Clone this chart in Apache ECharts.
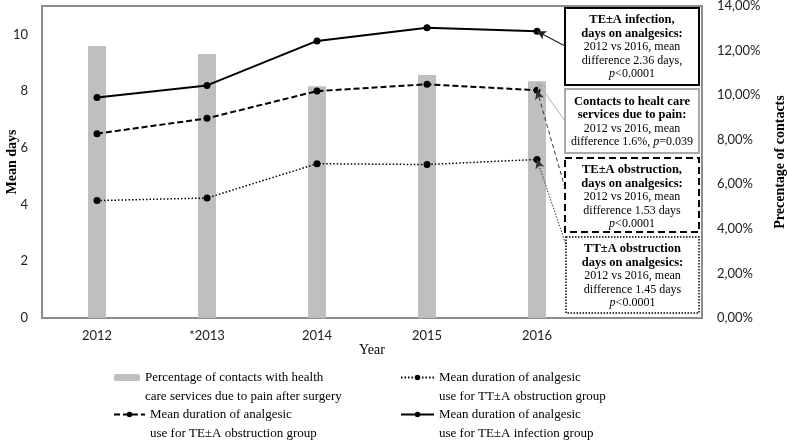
<!DOCTYPE html>
<html>
<head>
<meta charset="utf-8">
<script src="https://cdn.jsdelivr.net/npm/echarts@6/dist/echarts.min.js"></script>
<style>
  html, body { margin: 0; padding: 0; background: #fff; }
  #chart { width: 787px; height: 440px; }
</style>
</head>
<body>
<div id="chart"></div>
<script>
var years = ['2012', '*2013', '2014', '2015', '2016', ''];
var contactsPct = [12.2, 11.85, 10.4, 10.9, 10.62];
var ttObstruction = [4.14, 4.23, 5.44, 5.41, 5.59];
var teObstruction = [6.5, 7.04, 8.0, 8.24, 8.03];
var teInfection = [7.77, 8.2, 9.77, 10.23, 10.11];

var nameBar = 'Percentage of contacts with health\ncare services due to pain after surgery';
var nameTT = 'Mean duration of analgesic\nuse for TT±A obstruction group';
var nameTE = 'Mean duration of analgesic\nuse for TE±A obstruction group';
var nameInf = 'Mean duration of analgesic\nuse for TE±A infection group';

var serif = 'Liberation Serif';
var sans = 'Lato';
var grey = '#8c8c8c';

var chart = echarts.init(document.getElementById('chart'));

// blank first line so the icon sits beside the first text line
function legendAt(name, left, top, width) {
  return {
    data: [name],
    orient: 'vertical',
    left: left,
    top: top,
    padding: 0,
    itemWidth: width,
    itemHeight: 7,
    selectedMode: false,
    formatter: function (n) { return ' \n' + n; },
    textStyle: {
      fontFamily: serif,
      fontSize: 13,
      color: '#000',
      lineHeight: 19
    }
  };
}

var rich = {
  b: { fontFamily: serif, fontSize: 12.5, fontWeight: 'bold', color: '#000', lineHeight: 13.5 },
  n: { fontFamily: serif, fontSize: 12, color: '#000', lineHeight: 13.5 },
  i: { fontFamily: serif, fontSize: 12, fontStyle: 'italic', color: '#000', lineHeight: 13.5 }
};

function box(x, y, w, h, stroke, lw, dash, text, ty) {
  return {
    type: 'group',
    z: 100,
    children: [
      {
        type: 'rect',
        shape: { x: x, y: y, width: w, height: h },
        style: { fill: '#fff', stroke: stroke, lineWidth: lw, lineDash: dash }
      },
      {
        type: 'text',
        style: {
          x: x + w / 2,
          y: ty,
          text: text,
          rich: rich,
          align: 'center',
          verticalAlign: 'middle'
        }
      }
    ]
  };
}

function arrow(from, toX, toY, type, color, width) {
  return {
    silent: true,
    symbol: ['arrow', 'none'],
    symbolSize: [7, 9],
    label: { show: false },
    lineStyle: { color: color, type: type, width: width },
    emphasis: { disabled: true },
    data: [[from, { x: toX, y: toY }]]
  };
}

var option = {
  animation: false,
  grid: {
    left: 42, right: 85, top: 6, bottom: 122,
    outerBoundsMode: 'none',
    containLabel: false,
    show: true, borderColor: grey, borderWidth: 2
  },
  legend: [
    legendAt(nameBar, 114, 349, 26),
    legendAt(nameTE, 113, 386, 31),
    legendAt(nameTT, 400, 349, 33),
    legendAt(nameInf, 400, 386, 33)
  ],
  xAxis: {
    type: 'category',
    data: years,
    boundaryGap: true,
    name: 'Year',
    nameLocation: 'middle',
    nameGap: 25,
    nameMoveOverlap: false,
    nameTextStyle: { fontFamily: serif, fontSize: 14, color: '#000' },
    axisLine: { lineStyle: { color: grey, width: 2 } },
    axisTick: { show: false },
    axisLabel: { fontFamily: sans, fontSize: 13, color: '#222', margin: 11 }
  },
  yAxis: [
    {
      type: 'value',
      min: 0, max: 11, interval: 2,
      name: 'Mean days',
      nameLocation: 'middle',
      nameGap: 23,
      nameRotate: 90,
      nameMoveOverlap: false,
      nameTextStyle: { fontFamily: serif, fontSize: 14, fontWeight: 'bold', color: '#000' },
      axisLine: { show: true, lineStyle: { color: grey, width: 2 } },
      axisTick: { show: false },
      splitLine: { show: false },
      axisLabel: { fontFamily: sans, fontSize: 13, color: '#222', margin: 14, showMaxLabel: false }
    },
    {
      type: 'value',
      min: 0, max: 14, interval: 2,
      position: 'right',
      name: 'Precentage of contacts',
      nameLocation: 'middle',
      nameGap: 71,
      nameRotate: 90,
      nameMoveOverlap: false,
      nameTextStyle: { fontFamily: serif, fontSize: 14, fontWeight: 'bold', color: '#000' },
      axisLine: { show: true, lineStyle: { color: grey, width: 2 } },
      axisTick: { show: false },
      splitLine: { show: false },
      axisLabel: {
        fontFamily: sans, fontSize: 13, color: '#222', margin: 15,
        formatter: function (v) { return v.toFixed(2).replace('.', ',') + '%'; }
      }
    }
  ],
  series: [
    {
      name: nameBar,
      type: 'bar',
      yAxisIndex: 1,
      barWidth: 18,
      itemStyle: { color: '#bfbfbf' },
      data: contactsPct,
      markLine: arrow({ coord: ['2016', contactsPct[4]] }, 565, 121, 'solid', '#b0b0b0', 1)
    },
    {
      name: nameTT,
      type: 'line',
      symbol: 'circle',
      symbolSize: 7,
      itemStyle: { color: '#000' },
      lineStyle: { color: '#000', width: 1.5, type: [1.5, 2] },
      data: ttObstruction,
      markLine: arrow({ coord: ['2016', ttObstruction[4]] }, 566, 245, [1.5, 1.5], '#333', 1)
    },
    {
      name: nameTE,
      type: 'line',
      symbol: 'circle',
      symbolSize: 7,
      itemStyle: { color: '#000' },
      lineStyle: { color: '#000', width: 2, type: [6, 3] },
      data: teObstruction,
      markLine: arrow({ coord: ['2016', teObstruction[4]] }, 565, 188, [4, 3], '#333', 1)
    },
    {
      name: nameInf,
      type: 'line',
      symbol: 'circle',
      symbolSize: 7,
      itemStyle: { color: '#000' },
      lineStyle: { color: '#000', width: 2 },
      data: teInfection,
      markLine: arrow({ coord: ['2016', teInfection[4]] }, 565, 46, 'solid', '#222', 1.2)
    }
  ],
  graphic: [
    box(565, 8, 134, 77, '#000', 2, null,
      '{b|TE±A infection,}\n{b|days on analgesics:}\n{n|2012 vs 2016, mean}\n{n|difference 2.36 days,}\n{i|p}{n|<0.0001}', 47),
    box(565, 89, 134, 64, '#aaaaaa', 2, null,
      '{b|Contacts to healt care}\n{b|services due to pain:}\n{n|2012 vs 2016, mean}\n{n|difference 1.6%, }{i|p}{n|=0.039}', 122),
    box(565, 158, 134, 74, '#000', 2, [7, 4],
      '{b|TE±A obstruction,}\n{b|days on analgesics:}\n{n|2012 vs 2016, mean}\n{n|difference 1.53 days}\n{i|p}{n|<0.0001}', 197),
    box(566, 237, 133, 76, '#000', 1.5, [1.5, 1.5],
      '{b|TT±A obstruction}\n{b|days on analgesics:}\n{n|2012 vs 2016, mean}\n{n|difference 1.45 days}\n{i|p}{n|<0.0001}', 276)
  ]
};

chart.setOption(option);
</script>
</body>
</html>
